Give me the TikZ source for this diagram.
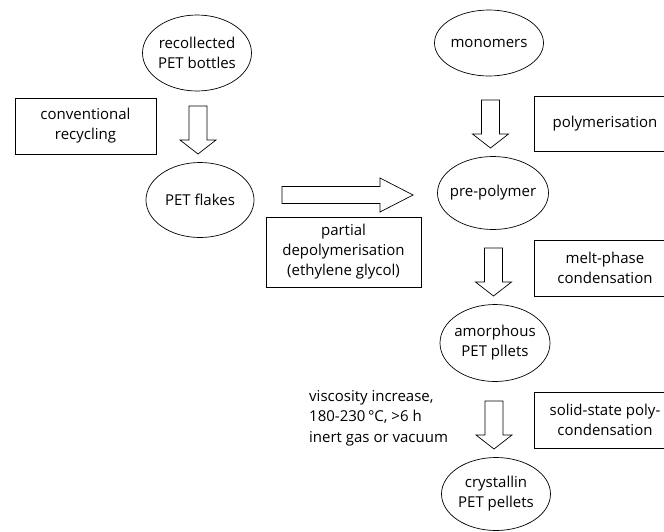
\documentclass[tikz,border=0pt]{standalone}
\usepackage{fontspec}
\setmainfont{Open Sans}
\usetikzlibrary{shapes.geometric}
\tikzset{
  txt/.style={inner sep=0pt, align=center, font=\fontsize{15}{20}\selectfont},
  ell/.style={draw, ellipse, inner sep=0pt, line width=0.7pt},
  lbox/.style={draw, rectangle, inner sep=0pt, line width=0.7pt, align=center, font=\fontsize{15}{20}\selectfont},
  plain/.style={inner sep=0pt, align=left, font=\fontsize{15}{20.5}\selectfont},
  blk/.style={draw, line width=0.7pt, line join=miter},
  pics/downarr/.style={code={
    \draw[blk] (-9,0) -- (9,0) -- (9,34) -- (18,34) -- (0,48) -- (-18,34) -- (-9,34) -- cycle;
  }},
}
\begin{document}
\begin{tikzpicture}[x=1pt,y=-1pt]
\useasboundingbox (0,0) rectangle (664,531);
% ellipses
\node[ell, minimum width=109, minimum height=76] (bottles) at (197,53) {};
\node[txt] (tbottles) at (bottles) {recollected\\PET bottles};
\node[ell, minimum width=108, minimum height=75] (flakes) at (200,200) {};
\node[txt] (tflakes) at (flakes) {PET flakes};
\node[ell, minimum width=109, minimum height=66] (mono) at (489,43) {};
\node[txt] (tmono) at (mono) {monomers};
\node[ell, minimum width=111, minimum height=73] (prepoly) at (493,193) {};
\node[txt] (tprepoly) at (prepoly) {pre-polymer};
\node[ell, minimum width=110, minimum height=77] (amorph) at (495,343) {};
\node[txt] (tamorph) at (amorph) {amorphous\\PET pllets};
\node[ell, minimum width=109, minimum height=73] (cryst) at (496,494) {};
\node[txt] (tcryst) at (cryst) {crystallin\\PET pellets};
% boxes
\node[lbox, minimum width=141, minimum height=56] (conv) at (85.5,126) {conventional\\recycling};
\node[lbox, minimum width=155, minimum height=70] (partial) at (343.5,252) {partial\\depolymerisation\\(ethylene glycol)};
\node[lbox, minimum width=142, minimum height=55] (polym) at (605,123.5) {polymerisation};
\node[lbox, minimum width=142, minimum height=56] (melt) at (605,268) {melt-phase\\condensation};
\node[lbox, minimum width=142, minimum height=56] (ssp) at (605,420) {solid-state poly-\\condensation};
% side text
\node[plain, anchor=north west] (visc) at (309,390) {viscosity increase,\\180-230\,°C, >6 h\\inert gas or vacuum};
% block arrows
\coordinate (a1) at (198,106);
\coordinate (a2) at (490.5,100);
\coordinate (a3) at (493.5,248);
\coordinate (a4) at (494,401);
\pic at (a1) {downarr};
\pic at (a2) {downarr};
\pic at (a3) {downarr};
\pic at (a4) {downarr};
\coordinate (r1) at (282,195);
\draw[blk] (r1) ++(0,-8.5) -- ++(98,0) -- ++(0,-8.5) -- ++(33,17) -- ++(-33,17) -- ++(0,-8.5) -- ++(-98,0) -- cycle;
\end{tikzpicture}
\end{document}
